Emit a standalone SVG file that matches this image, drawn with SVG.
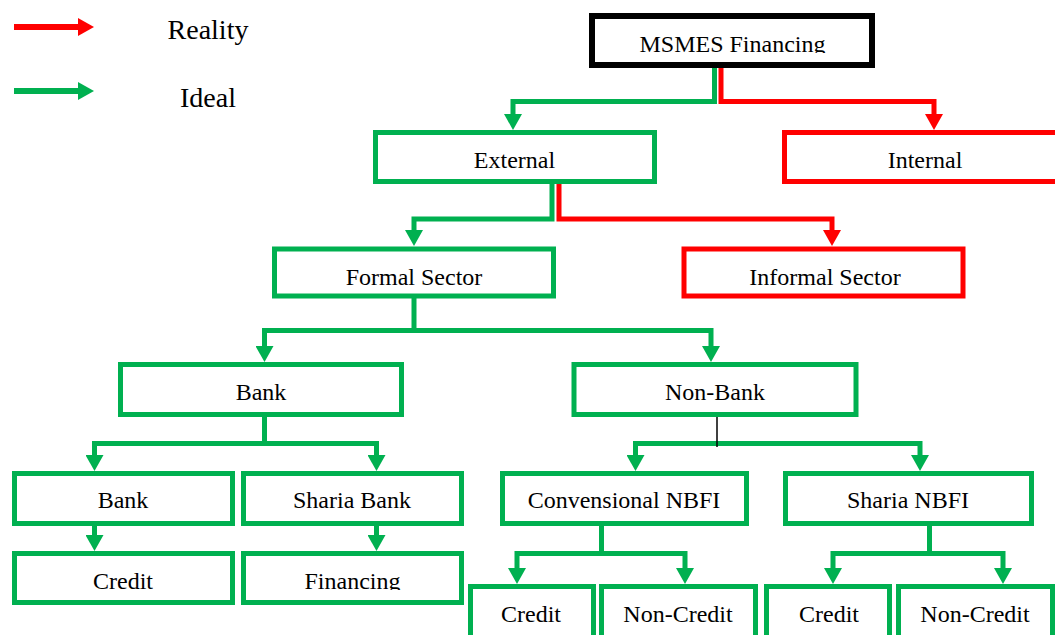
<svg xmlns="http://www.w3.org/2000/svg" width="1055" height="635" viewBox="0 0 1055 635">
<style>
.g{fill:#fff;stroke:#00B050;stroke-width:5}
.r{fill:#fff;stroke:#FF0000;stroke-width:5}
.k{fill:#fff;stroke:#000;stroke-width:6}
.t{font-family:"Liberation Serif","Times New Roman",serif;font-size:24px;fill:#000;text-anchor:middle}
.lt{font-family:"Liberation Serif","Times New Roman",serif;font-size:28px;fill:#000;text-anchor:middle}
.cg{fill:none;stroke:#00B050;stroke-width:5;stroke-linejoin:miter;marker-end:url(#ag)}
.cr{fill:none;stroke:#FF0000;stroke-width:5;stroke-linejoin:miter;marker-end:url(#ar)}
</style>
<defs>
<marker id="ag" markerUnits="userSpaceOnUse" viewBox="0 0 16 18" refX="0" refY="9" markerWidth="16" markerHeight="18" orient="auto"><path d="M0,0 L16,9 L0,18 Z" fill="#00B050"/></marker>
<marker id="ar" markerUnits="userSpaceOnUse" viewBox="0 0 16 18" refX="0" refY="9" markerWidth="16" markerHeight="18" orient="auto"><path d="M0,0 L16,9 L0,18 Z" fill="#FF0000"/></marker>
<clipPath id="clipTop"><rect x="580" y="0" width="300" height="53"/></clipPath>
<clipPath id="clipFin"><rect x="240" y="540" width="230" height="50"/></clipPath>
</defs>
<rect width="1055" height="635" fill="#fff"/>
<g id="legend">
<path d="M14,27 H78" fill="none" stroke="#FF0000" stroke-width="6" marker-end="url(#ar)"/>
<text class="lt" x="208" y="39">Reality</text>
<path d="M14,91 H78" fill="none" stroke="#00B050" stroke-width="6" marker-end="url(#ag)"/>
<text class="lt" x="208" y="107">Ideal</text>
</g>
<g id="connectors">
<path class="cg" d="M714.5,68 V101.5 H513 V114"/>
<path class="cr" d="M721,68 V101.5 H934 V114"/>
<path class="cg" d="M552,184 V219 H414 V230"/>
<path class="cr" d="M559,184 V219 H832 V230"/>
<path class="cg" d="M414,298 V330.5 H264.5 V346"/>
<path class="cg" d="M414,330.5 H711 V346"/>
<path class="cg" d="M264.5,417 V443.5 H94.5 V455"/>
<path class="cg" d="M264.5,443.5 H376.5 V455"/>
<path class="cg" d="M94.5,526 V535"/>
<path class="cg" d="M376.5,526 V535"/>
<path class="cg" d="M717,443.5 H635.5 V455"/>
<path class="cg" d="M717,443.5 H920 V455"/>
<path d="M717,415 V447" fill="none" stroke="#000" stroke-width="1.5"/>
<path class="cg" d="M601.5,526 V553.5 H517 V568"/>
<path class="cg" d="M601.5,553.5 H685 V568"/>
<path class="cg" d="M929.5,526 V553.5 H833 V568"/>
<path class="cg" d="M929.5,553.5 H1003 V568"/>
</g>
<g id="msmes"><rect class="k" x="592" y="16" width="280" height="49"/><text class="t" x="732.5" y="51.5" clip-path="url(#clipTop)">MSMES Financing</text></g>
<g id="external"><rect class="g" x="375.5" y="132.5" width="279" height="49"/><text class="t" x="514.5" y="168">External</text></g>
<g id="internal"><rect class="r" x="784.5" y="132.5" width="290" height="49"/><text class="t" x="925" y="168">Internal</text></g>
<g id="formal"><rect class="g" x="274.5" y="249" width="279" height="47"/><text class="t" x="414" y="285">Formal Sector</text></g>
<g id="informal"><rect class="r" x="684" y="249" width="279" height="47"/><text class="t" x="825" y="285">Informal Sector</text></g>
<g id="bank"><rect class="g" x="120.5" y="364.5" width="281" height="50"/><text class="t" x="261" y="400">Bank</text></g>
<g id="nonbank"><rect class="g" x="574" y="364.5" width="282" height="50"/><text class="t" x="715" y="400">Non-Bank</text></g>
<g id="bank2"><rect class="g" x="14.5" y="473.5" width="218" height="50"/><text class="t" x="123" y="508">Bank</text></g>
<g id="shariabank"><rect class="g" x="243.5" y="473.5" width="218" height="50"/><text class="t" x="352" y="508">Sharia Bank</text></g>
<g id="convnbfi"><rect class="g" x="502.5" y="473.5" width="244" height="50"/><text class="t" x="624" y="508">Convensional NBFI</text></g>
<g id="sharianbfi"><rect class="g" x="785.5" y="473.5" width="246" height="50"/><text class="t" x="908" y="508">Sharia NBFI</text></g>
<g id="credit1"><rect class="g" x="14.5" y="553.5" width="218" height="49"/><text class="t" x="123" y="589">Credit</text></g>
<g id="financing"><rect class="g" x="243.5" y="553.5" width="218" height="49"/><text class="t" x="352.5" y="589" clip-path="url(#clipFin)">Financing</text></g>
<g id="credit2"><rect class="g" x="470.5" y="586.5" width="123" height="60"/><text class="t" x="531" y="622">Credit</text></g>
<g id="noncredit2"><rect class="g" x="601.5" y="586.5" width="154" height="60"/><text class="t" x="678" y="622">Non-Credit</text></g>
<g id="credit3"><rect class="g" x="766.5" y="586.5" width="123" height="60"/><text class="t" x="829" y="622">Credit</text></g>
<g id="noncredit3"><rect class="g" x="898.5" y="586.5" width="154" height="60"/><text class="t" x="975" y="622">Non-Credit</text></g>
</svg>
